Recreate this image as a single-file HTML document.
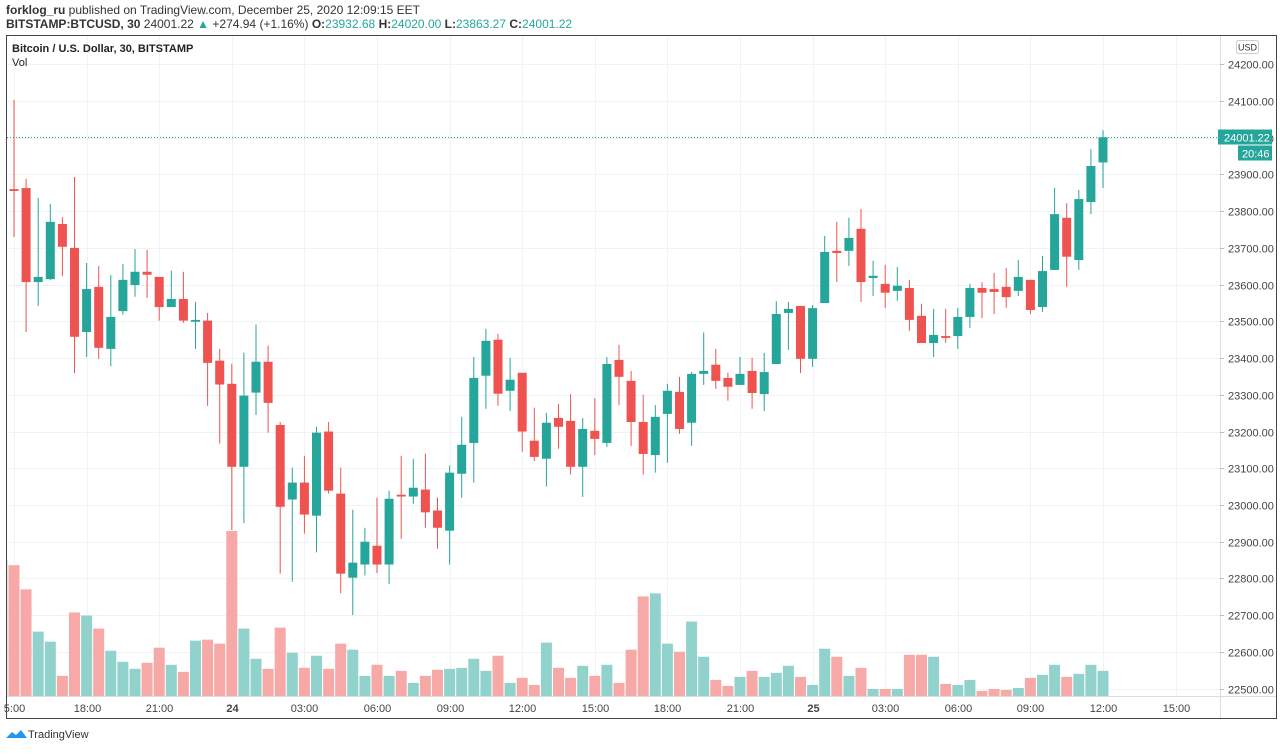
<!DOCTYPE html>
<html><head><meta charset="utf-8">
<style>
html,body{margin:0;padding:0;background:#fff;}
body{width:1280px;height:749px;overflow:hidden;font-family:"Liberation Sans",Arial,sans-serif;}
svg text{font-family:"Liberation Sans",Arial,sans-serif;}
</style></head>
<body>
<svg id="chart" width="1280" height="749" viewBox="0 0 1280 749" xmlns="http://www.w3.org/2000/svg">
<defs><clipPath id="pane"><rect x="7" y="36" width="1213" height="660"/></clipPath></defs>
<text x="6" y="14" font-size="12" fill="#333"><tspan font-weight="bold">forklog_ru</tspan> published on TradingView.com, December 25, 2020 12:09:15 EET</text>
<text x="6" y="28" font-size="12" fill="#333"><tspan font-weight="bold">BITSTAMP:BTCUSD, 30</tspan> 24001.22 <tspan fill="#26a69a">▲</tspan> +274.94 (+1.16%) <tspan font-weight="bold">O:</tspan><tspan fill="#26a69a">23932.68</tspan> <tspan font-weight="bold">H:</tspan><tspan fill="#26a69a">24020.00</tspan> <tspan font-weight="bold">L:</tspan><tspan fill="#26a69a">23863.27</tspan> <tspan font-weight="bold">C:</tspan><tspan fill="#26a69a">24001.22</tspan></text>
<rect x="6.5" y="35.5" width="1270" height="683" fill="none" stroke="#444" stroke-width="1"/>
<line x1="1220.5" y1="36" x2="1220.5" y2="718" stroke="#ddd"/>
<line x1="7" y1="696.5" x2="1276" y2="696.5" stroke="#ddd"/>
<g id="grid"></g>
<g id="vol" clip-path="url(#pane)"></g>
<g id="candles" clip-path="url(#pane)"></g>
<g id="axes"></g>
<text x="12" y="52" font-size="11" font-weight="bold" fill="#222">Bitcoin / U.S. Dollar, 30, BITSTAMP</text>
<text x="12" y="66" font-size="11" fill="#222">Vol</text>
<rect x="1236.5" y="40.5" width="22" height="13" rx="2" fill="#fff" stroke="#ccc"/>
<text x="1247.5" y="50.5" font-size="9" text-anchor="middle" fill="#333">USD</text>
<g>
<path d="M6 738 l6 -6 l4 3 l5 -5 l6 8 z" fill="#2196f3"/>
<text x="28" y="738" font-size="11" fill="#333">TradingView</text>
</g>
</svg>
<script>
const opens=[23294,23860,23863,23607,23615,23765,23700,23471,23594,23425,23528,23599,23635,23621,23539,23561,23499,23502,23393,23330,23104,23306,23390,23218,23015,23061,22971,23200,23031,22802,22838,22889,22838,23028,23023,23042,22985,22930,23085,23169,23352,23450,23311,23360,23175,23126,23237,23229,23104,23202,23169,23395,23338,23226,23136,23248,23308,23224,23357,23382,23346,23327,23365,23302,23384,23523,23542,23398,23550,23692,23692,23752,23618,23602,23583,23591,23515,23441,23460,23460,23512,23591,23588,23594,23583,23613,23539,23640,23782,23667,23825,23932.68];
const closes=[23847,23855,23607,23621,23771,23703,23458,23588,23428,23512,23613,23635,23627,23539,23561,23502,23504,23387,23328,23104,23298,23390,23278,22995,23061,22974,23197,23039,22813,22843,22900,22838,23017,23023,23047,22980,22938,23088,23164,23346,23447,23303,23341,23200,23131,23224,23213,23104,23207,23180,23384,23349,23226,23139,23240,23311,23207,23357,23365,23338,23322,23357,23305,23362,23520,23534,23398,23536,23689,23686,23727,23607,23624,23578,23597,23504,23441,23463,23455,23512,23591,23578,23580,23566,23621,23531,23637,23792,23676,23833,23923,24001.22];
const highs=[23847,24103,23888,23836,23820,23784,23893,23659,23651,23626,23656,23697,23695,23621,23638,23635,23553,23523,23425,23385,23415,23491,23434,23226,23102,23134,23213,23226,23102,22987,22938,23020,23039,23134,23126,23140,23020,23107,23240,23403,23480,23466,23401,23360,23265,23251,23275,23302,23237,23291,23403,23436,23365,23300,23272,23330,23349,23362,23470,23425,23360,23403,23401,23414,23555,23553,23542,23545,23733,23771,23782,23806,23665,23654,23648,23613,23548,23534,23534,23536,23602,23607,23632,23645,23667,23613,23678,23863,23822,23858,23969,24020.00];
const lows=[23294,23730,23471,23542,23612,23623,23359,23403,23398,23378,23518,23567,23564,23502,23539,23496,23425,23270,23167,22932,22951,23245,23197,22813,22791,22922,22871,23031,22760,22700,22808,22815,22785,22908,23003,22938,22881,22838,23020,23061,23262,23270,23256,23145,23120,23050,23153,23083,23022,23136,23158,23272,23161,23083,23088,23115,23194,23161,23327,23316,23284,23327,23262,23256,23384,23422,23359,23376,23550,23607,23651,23553,23569,23537,23556,23474,23441,23403,23441,23425,23482,23509,23520,23537,23569,23520,23526,23640,23594,23640,23792,23863.27];
const volumes=[675,650,530,320,270,100,415,400,335,225,170,135,165,240,155,120,275,280,260,820,335,185,135,340,215,140,200,135,260,230,100,155,100,125,65,100,130,135,140,185,125,200,65,90,55,265,140,90,150,100,155,65,230,495,510,260,220,370,195,80,50,95,125,95,115,150,95,55,235,195,100,140,35,35,35,205,205,195,60,55,80,25,35,30,40,90,105,155,95,110,155,125];
const priceTicks=[24200,24100,24000,23900,23800,23700,23600,23500,23400,23300,23200,23100,23000,22900,22800,22700,22600,22500];
const timeLabels=["5:00","18:00","21:00","24","03:00","06:00","09:00","12:00","15:00","18:00","21:00","25","03:00","06:00","09:00","12:00","15:00"];
const timeLabelIdx=[1,7,13,19,25,31,37,43,49,55,61,67,73,79,85,91,97];
const lastPrice=24001.22;

const NS="http://www.w3.org/2000/svg";
const X0=14-12.1, DX=12.1;
function xAt(i){return X0+DX*i;}
function yP(p){return 101+(24100-p)*0.36727;}
const VBASE=696, VMAX=820, VH=165;
function yV(v){return VBASE-v/VMAX*VH;}
function mk(tag,attrs,parent){const e=document.createElementNS(NS,tag);for(const k in attrs)e.setAttribute(k,attrs[k]);parent.appendChild(e);return e;}
const G=document.getElementById('grid'),A=document.getElementById('axes'),C=document.getElementById('candles'),V=document.getElementById('vol');
const UP="#26a69a",DN="#ef5350";
priceTicks.forEach(p=>{const y=Math.round(yP(p))+0.5;
 const l=mk('line',{x1:7,x2:1220,y1:y,y2:y,stroke:'#f0f3f5'},G);
 
 
 mk('line',{x1:1220,x2:1224,y1:y,y2:y,stroke:'#bbb'},A);
 const t=mk('text',{x:1228,y:y+4,'font-size':11,fill:'#444'},A);t.textContent=p.toFixed(2);
 
 
});
timeLabels.forEach((s,k)=>{const x=Math.round(xAt(timeLabelIdx[k]))+0.5;
 const l=mk('line',{x1:x,x2:x,y1:36,y2:696,stroke:'#f0f3f5'},G);
 
 
 const t=mk('text',{x:x,y:712,'font-size':11,fill:'#444','text-anchor':'middle'},A);t.textContent=s;
 if(s==="24"||s==="25")t.setAttribute('font-weight','bold');
 
 
});
volumes.forEach((v,i)=>{const up=closes[i]>=opens[i];const x=xAt(i);
 const r=mk('rect',{x:x-5.5,y:yV(v),width:11,height:VBASE-yV(v),fill:up?'#92d2cc':'#f7a9a7'},V);
 
 
});
opens.forEach((o,i)=>{const c=closes[i],up=c>=o,col=up?UP:DN,x=xAt(i);
 const w=mk('line',{x1:x,x2:x,y1:yP(highs[i]),y2:yP(lows[i]),stroke:col,'stroke-width':1},C);
 
 
 const top=yP(Math.max(o,c)),h=Math.max(1.5,yP(Math.min(o,c))-top);
 const b=mk('rect',{x:x-4.5,y:top,width:9,height:h,fill:col},C);
 
 
});
const ly=Math.round(yP(lastPrice))+0.5;
const pl=mk('line',{x1:7,x2:1220,y1:ly,y2:ly,stroke:UP,'stroke-dasharray':'1 2','stroke-width':1},A);


const pb=mk('rect',{x:1218,y:ly-8,width:54,height:15,fill:UP},A);


const pt=mk('text',{x:1224,y:ly+4,'font-size':11,fill:'#fff'},A);pt.textContent=lastPrice.toFixed(2);


const cb=mk('rect',{x:1238,y:ly+8,width:34,height:15,fill:UP},A);


const ct=mk('text',{x:1242,y:ly+20,'font-size':11,fill:'#fff'},A);ct.textContent="20:46";


</script>
</body></html>
